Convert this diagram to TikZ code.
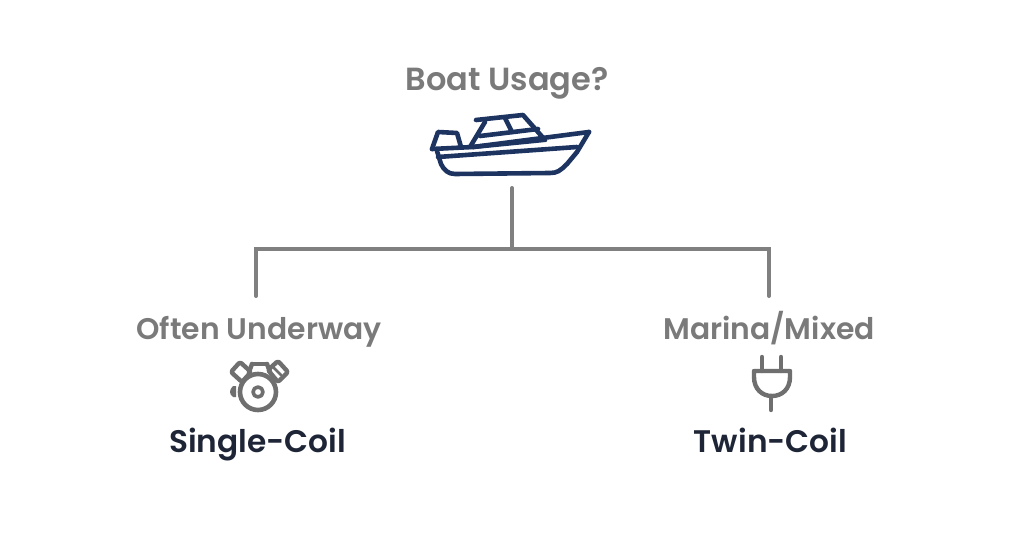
\documentclass[tikz,border=0pt]{standalone}
\usepackage{fontspec}
\setmainfont[BoldFont={Poppins Bold}]{Poppins SemiBold}
\definecolor{greytext}{HTML}{7A7A7A}
\definecolor{navyicon}{HTML}{1D3461}
\definecolor{darktext}{HTML}{1E2536}
\definecolor{linegrey}{HTML}{808080}
\definecolor{icongrey}{HTML}{6F6F6F}
\tikzset{
  asklabel/.style={text=greytext,font=\fontsize{32}{35}\selectfont,inner sep=0pt,anchor=base},
  pathlabel/.style={text=greytext,font=\fontsize{29.8}{33}\selectfont,inner sep=0pt,anchor=base},
  resultlabel/.style={text=darktext,font=\fontsize{31.2}{35}\selectfont,inner sep=0pt,anchor=base},
  boatline/.style={draw=navyicon,line width=4.6pt,line cap=round,line join=round},
  iconline/.style={draw=icongrey,line width=4.4pt,line cap=round,line join=round},
  connector/.style={draw=linegrey,line width=4pt,line cap=round,line join=miter}
}
\begin{document}
\begin{tikzpicture}[x=1pt,y=-1pt]
\useasboundingbox (0,0) rectangle (1024,553);
\fill[white] (0,0) rectangle (1024,553);
\node[asklabel] (ask) at (507,91) {Boat Usage?};
\node[pathlabel] (left) at (259,339) {Often Underway};
\node[pathlabel] (right) at (769,339) {Marina/Mixed};
\node[resultlabel] (single) at (257.5,452) {Single-Coil};
\node[resultlabel] (twin) at (770.5,452) {Twin-Coil};
% boat icon
\path[boatline] (432,149) -- (438,132) -- (457,133) -- (461,147);
\path[boatline] (432,149) -- (473,147) -- (589,132);
\path[boatline] (438,157) -- (577,147);
\path[boatline] (589,132) -- (577,152) -- (567,164) .. controls (560,171) and (557,173) .. (550,173) -- (455,174) .. controls (448,174) and (444,170) .. (441,164) -- (437,151);
\path[boatline] (476,120) -- (523,115) -- (545,140);
\path[boatline] (485,122) -- (470,147);
\path[boatline] (480,136) -- (538,129);
\path[boatline] (505,118) -- (512,132);
\path[boatline] (473,147) -- (543,140);
% tree
\coordinate (stemtop) at (512,188);
\coordinate (junction) at (512,249);
\coordinate (leftcorner) at (256,249);
\coordinate (rightcorner) at (769,249);
\coordinate (leftend) at (256,296);
\coordinate (rightend) at (769,296);
\path[connector] (stemtop) -- (junction);
\path[connector] (leftend) -- (leftcorner) -- (rightcorner) -- (rightend);
% engine icon
\path[iconline,rounded corners=2pt] (240,362) -- (251,372) -- (242,382) -- (231,372) -- cycle;
\path[iconline] (252,364) -- (267,364);
\path[iconline] (252,364) -- (249,372);
\path[iconline] (267,364) -- (270,372);
\path[iconline,rounded corners=2pt] (278,361) -- (288,372) -- (278,382) -- (268,370) -- cycle;
\path[iconline,line width=2.8pt] (274,368) -- (281,375);
\path[draw=icongrey,fill=white,line width=4.6pt] (258,392) circle (18);
\path[iconline,line width=3.6pt] (258,392) circle (5);
\fill[icongrey] (236,386) -- (233,386) .. controls (229,390) and (229,394) .. (233,397) -- (236,397) -- cycle;
% plug icon
\path[iconline] (762,357) -- (762,371);
\path[iconline] (781,357) -- (781,371);
\path[iconline] (754,371) -- (790,371) -- (790,377) .. controls (790,389) and (782,396) .. (772,396) .. controls (762,396) and (754,389) .. (754,377) -- cycle;
\path[iconline] (771,396) -- (771,410);
\end{tikzpicture}
\end{document}
